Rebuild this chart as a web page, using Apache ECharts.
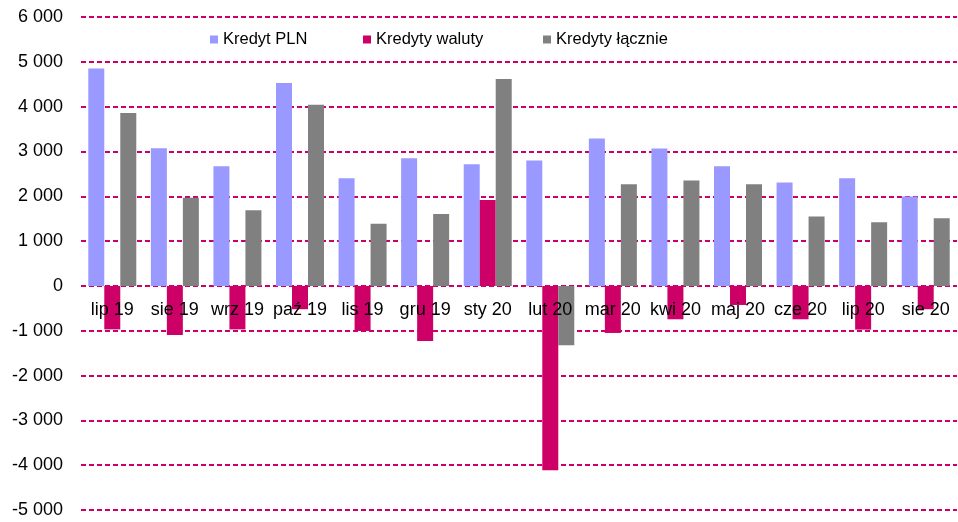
<!DOCTYPE html>
<html>
<head>
<meta charset="utf-8">
<script src="https://cdn.jsdelivr.net/npm/echarts@6/dist/echarts.min.js"></script>
<style>
  html, body { margin: 0; padding: 0; background: #fff; }
  #chart { width: 958px; height: 522px; }
</style>
</head>
<body>
<div id="chart"></div>
<script>
const months = ['lip 19', 'sie 19', 'wrz 19', 'paź 19', 'lis 19', 'gru 19', 'sty 20',
  'lut 20', 'mar 20', 'kwi 20', 'maj 20', 'cze 20', 'lip 20', 'sie 20']
const kredytPln = [4850, 3070, 2670, 4530, 2400, 2850, 2715, 2800, 3290, 3065, 2670, 2310, 2400, 1995]
const kredytyWaluty = [-970, -1095, -970, -520, -1005, -1230, 1915, -4115, -1050, -745, -425, -745, -975, -520]
const kredytyLacznie = [3860, 1965, 1690, 4040, 1385, 1605, 4615, -1325, 2270, 2350, 2270, 1550, 1420, 1510]
const seriesNames = ['Kredyt PLN', 'Kredyty waluty', 'Kredyty łącznie']
const colors = ['#9999ff', '#cc0066', '#808080']
const legendLeft = [210, 363, 543]

const fmt = (v) => {
  const s = String(Math.abs(v)).replace(/\B(?=(\d{3})+(?!\d))/g, ' ')
  return (v < 0 ? '-' : '') + s
}

const font = 'Liberation Sans, Arial, sans-serif'
const chart = echarts.init(document.getElementById('chart'))
chart.setOption({
  animation: false,
  textStyle: { fontFamily: font },
  legend: seriesNames.map((name, i) => ({
    top: 31,
    left: legendLeft[i],
    padding: 0,
    itemWidth: 8,
    itemHeight: 8,
    icon: 'rect',
    textStyle: { fontSize: 16.5, color: '#000', fontFamily: font },
    data: [name]
  })),
  grid: { left: 81, right: 1, top: 17, bottom: 12, containLabel: false, outerBoundsMode: 'none' },
  xAxis: {
    type: 'category',
    data: months,
    z: 5,
    position: 'bottom',
    offset: -225,
    axisLine: { show: false, onZero: false },
    axisTick: { show: false },
    axisLabel: { fontSize: 18, color: '#000', margin: 16, interval: 0, fontFamily: font }
  },
  yAxis: {
    type: 'value',
    min: -5000,
    max: 6000,
    interval: 1000,
    axisLine: { show: false },
    axisTick: { show: false },
    axisLabel: { fontSize: 18, color: '#000', margin: 18, formatter: fmt, fontFamily: font },
    splitLine: { lineStyle: { color: '#cc0066', width: 2, type: [5, 3] } }
  },
  series: [
    { name: seriesNames[0], type: 'bar', data: kredytPln, barWidth: 16, barGap: '0%', itemStyle: { color: colors[0] } },
    { name: seriesNames[1], type: 'bar', data: kredytyWaluty, barWidth: 16, barGap: '0%', itemStyle: { color: colors[1] } },
    { name: seriesNames[2], type: 'bar', data: kredytyLacznie, barWidth: 16, barGap: '0%', itemStyle: { color: colors[2] } }
  ]
})
</script>
</body>
</html>
